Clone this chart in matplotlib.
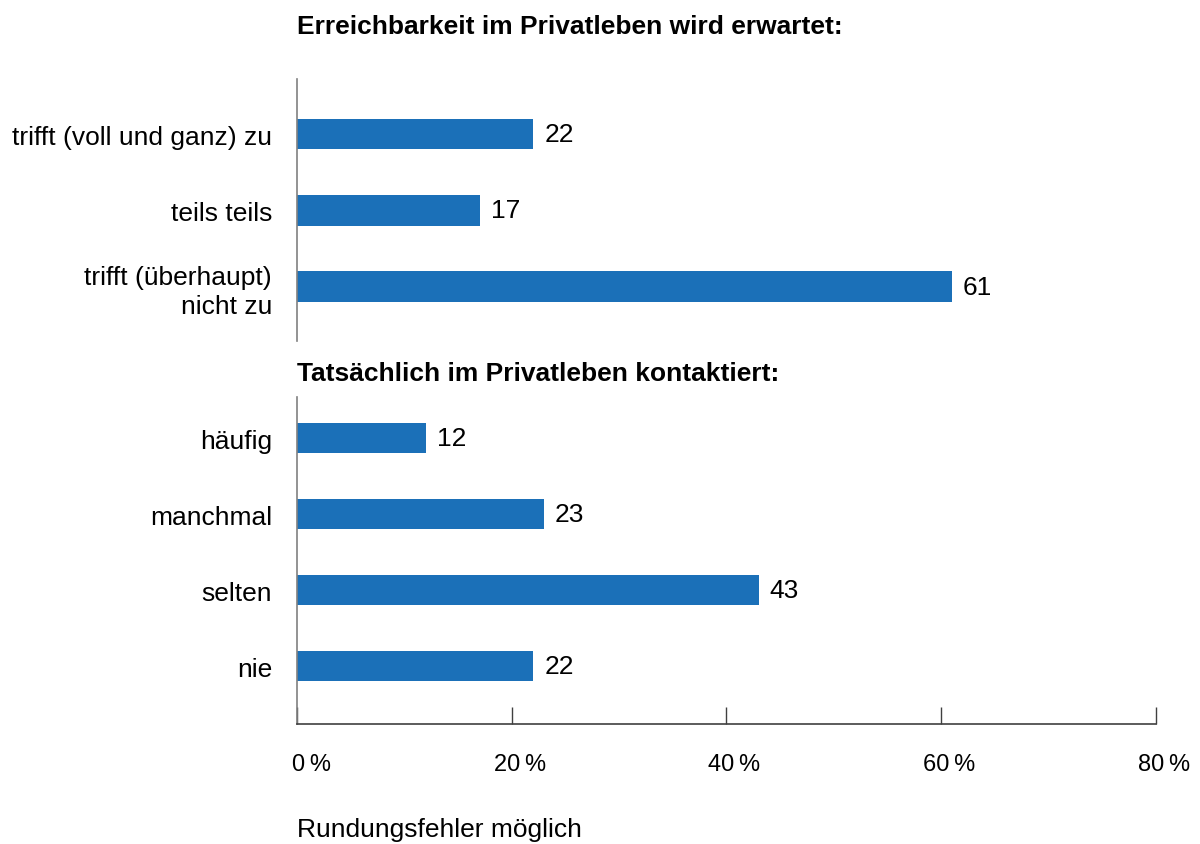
import matplotlib.pyplot as plt
from matplotlib.transforms import ScaledTranslation

plt.rcParams["font.family"] = ["Liberation Sans", "DejaVu Sans"]

# data
title_top = "Erreichbarkeit im Privatleben wird erwartet:"
cats_top = ["trifft (voll und ganz) zu", "teils teils", "trifft (überhaupt)\nnicht zu"]
vals_top = [22, 17, 61]

title_bottom = "Tatsächlich im Privatleben kontaktiert:"
cats_bottom = ["häufig", "manchmal", "selten", "nie"]
vals_bottom = [12, 23, 43, 22]

xticks = [0, 20, 40, 60, 80]
xtick_labels = [f"{v}\u2009%" for v in xticks]
footnote = "Rundungsfehler möglich"

BAR = "#1b70b8"
FS = 19

fig = plt.figure(figsize=(12, 8.45), dpi=100)
ax1 = fig.add_axes([0.2475, 0.5953, 0.7158, 0.310])
ax2 = fig.add_axes([0.2475, 0.142, 0.7158, 0.387])


def draw(ax, cats, vals, ylim):
    ys = list(range(len(cats)))
    ax.barh(ys, vals, height=0.4, color=BAR)
    for y, v in zip(ys, vals):
        ax.text(v, y, f"{v}", va="center", ha="left", fontsize=FS,
                transform=ax.transData + ScaledTranslation(11 / 100, 0, fig.dpi_scale_trans))
    ax.set_yticks(ys)
    ax.set_yticklabels(cats, fontsize=FS, ha="right", linespacing=1.25)
    ax.tick_params(axis="y", length=0, pad=18)
    ax.set_xlim(0, 80)
    ax.set_ylim(*ylim)
    for s in ["top", "right"]:
        ax.spines[s].set_visible(False)
    ax.spines["left"].set_color("#808080")
    ax.spines["left"].set_linewidth(1.2)


draw(ax1, cats_top, vals_top, (2.71, -0.72))
ax1.spines["bottom"].set_visible(False)
ax1.set_xticks([])

draw(ax2, cats_bottom, vals_bottom, (3.76, -0.54))
ax2.spines["bottom"].set_color("#404040")
ax2.spines["bottom"].set_linewidth(1.2)
ax2.set_xticks(xticks)
ax2.set_xticklabels(xtick_labels, fontsize=17, ha="right")
ax2.tick_params(axis="x", direction="in", length=12, width=1, color="#404040", pad=21)
for lbl in ax2.get_xticklabels():
    lbl.set_transform(lbl.get_transform() + ScaledTranslation(34 / 100, 0, fig.dpi_scale_trans))

fig.text(297 / 1200, 1 - 27 / 845, title_top, fontsize=FS, fontweight="bold", va="center", ha="left")
fig.text(297 / 1200, 1 - 374 / 845, title_bottom, fontsize=FS, fontweight="bold", va="center", ha="left")
fig.text(297 / 1200, 1 - 830 / 845, footnote, fontsize=FS, va="center", ha="left")

fig.savefig("out.png", dpi=100)
